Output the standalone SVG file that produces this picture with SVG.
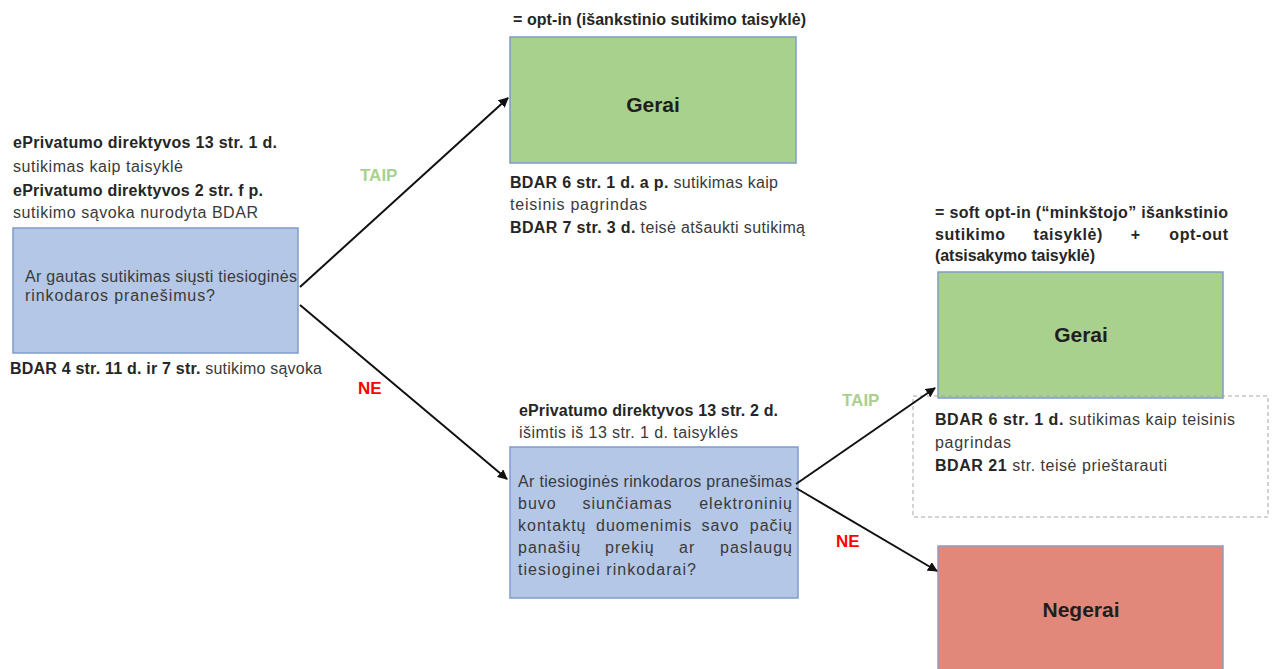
<svg xmlns="http://www.w3.org/2000/svg" width="1273" height="669" viewBox="0 0 1273 669">
<style>
text{font-family:"Liberation Sans",Arial,sans-serif;font-size:16px;fill:#3a3a3a}
.b{font-weight:bold;fill:#262626}
.e{text-anchor:end}
.w{letter-spacing:1px}
.wb{letter-spacing:0.6px}
.big{font-weight:bold;font-size:21px;fill:#1e1e1e}
.lbl{font-weight:bold;font-size:17px}
.blue{fill:#b4c7e7;stroke:#7f9cc9;stroke-width:1.5}
.green{fill:#a9d18e;stroke:#7f9cc9;stroke-width:1.5}
.red{fill:#e2887a;stroke:#8f9cc9;stroke-width:1.5}
.conn{stroke:#111;stroke-width:2;fill:none;marker-end:url(#ah)}
</style>
<defs>
<marker id="ah" markerWidth="10" markerHeight="10" refX="9" refY="5" orient="auto" markerUnits="userSpaceOnUse" viewBox="0 0 10 10">
<path d="M0,0 L10,5 L0,10 z" fill="#111"/>
</marker>
</defs>
<rect width="1273" height="669" fill="#fff"/>

<g id="q1">
<text x="13" y="148" class="b" textLength="264" lengthAdjust="spacing">ePrivatumo direktyvos 13 str. 1 d.</text>
<text x="13" y="172" textLength="170" lengthAdjust="spacing">sutikimas kaip taisyklė</text>
<text x="13" y="196" class="b" textLength="250" lengthAdjust="spacing">ePrivatumo direktyvos 2 str. f p.</text>
<text x="13" y="218" textLength="245" lengthAdjust="spacing">sutikimo sąvoka nurodyta BDAR</text>
<rect x="13" y="228" width="285" height="125" class="blue"/>
<text x="25" y="282" textLength="272" lengthAdjust="spacing">Ar gautas sutikimas siųsti tiesioginės</text>
<text x="25" y="301" textLength="190" lengthAdjust="spacing">rinkodaros pranešimus?</text>
<text x="10" y="374" textLength="312" lengthAdjust="spacing"><tspan class="b">BDAR 4 str. 11 d. ir 7 str.</tspan> sutikimo sąvoka</text>
</g>

<g id="ok1">
<text x="513" y="25" class="b" textLength="293" lengthAdjust="spacing">= opt-in (išankstinio sutikimo taisyklė)</text>
<rect x="510" y="37" width="286" height="126" class="green"/>
<text x="653" y="112" class="big" text-anchor="middle">Gerai</text>
<text x="510" y="188" textLength="268" lengthAdjust="spacing"><tspan class="b">BDAR 6 str. 1 d. a p.</tspan>  sutikimas kaip</text>
<text x="510" y="210" textLength="137" lengthAdjust="spacing">teisinis pagrindas</text>
<text x="510" y="233" textLength="295" lengthAdjust="spacing"><tspan class="b">BDAR 7 str. 3 d.</tspan> teisė atšaukti sutikimą</text>
</g>

<g id="q2">
<text x="519" y="416" class="b" textLength="259" lengthAdjust="spacing">ePrivatumo direktyvos 13 str. 2 d.</text>
<text x="519" y="438" textLength="219" lengthAdjust="spacing">išimtis iš 13 str. 1 d. taisyklės</text>
<rect x="510" y="447" width="288" height="151" class="blue"/>
<text x="518" y="487" textLength="274" lengthAdjust="spacing">Ar tiesioginės rinkodaros pranešimas</text>
<text x="518" y="509" class="w">buvo</text>
<text x="582.5" y="509" class="w">siunčiamas</text>
<text x="793" y="509" class="w e">elektroninių</text>
<text x="518" y="531" class="w">kontaktų</text>
<text x="596" y="531" class="w">duomenimis</text>
<text x="701.5" y="531" class="w">savo</text>
<text x="793" y="531" class="w e">pačių</text>
<text x="518" y="553" class="w">panašių</text>
<text x="605" y="553" class="w">prekių</text>
<text x="679" y="553" class="w">ar</text>
<text x="793" y="553" class="w e">paslaugų</text>
<text x="518" y="575" textLength="178" lengthAdjust="spacing">tiesioginei rinkodarai?</text>
</g>

<g id="ok2">
<text x="935" y="218" class="b" textLength="293" lengthAdjust="spacing">= soft opt-in (“minkštojo” išankstinio</text>
<text x="935" y="240" class="b wb">sutikimo</text>
<text x="1033.5" y="240" class="b wb">taisyklė)</text>
<text x="1130.8" y="240" class="b wb">+</text>
<text x="1228.6" y="240" class="b wb e">opt-out</text>
<text x="935" y="261" class="b" textLength="160" lengthAdjust="spacing">(atsisakymo taisyklė)</text>
<rect x="938" y="272" width="285" height="126" class="green"/>
<text x="1081" y="342" class="big" text-anchor="middle">Gerai</text>
<rect x="913" y="396" width="355" height="121" fill="none" stroke="#a6a6a6" stroke-width="1" stroke-dasharray="4,3"/>
<text x="935" y="425" textLength="300" lengthAdjust="spacing"><tspan class="b">BDAR 6 str. 1 d.</tspan> sutikimas kaip teisinis</text>
<text x="935" y="448" textLength="76" lengthAdjust="spacing">pagrindas</text>
<text x="935" y="471" textLength="232" lengthAdjust="spacing"><tspan class="b">BDAR 21</tspan> str. teisė prieštarauti</text>
</g>

<g id="bad">
<rect x="938" y="546" width="285" height="130" class="red"/>
<text x="1081" y="617" class="big" text-anchor="middle">Negerai</text>
</g>

<g id="connectors">
<line x1="300" y1="287" x2="508" y2="98" class="conn"/>
<line x1="300" y1="305" x2="507" y2="479" class="conn"/>
<line x1="796" y1="484" x2="935" y2="388" class="conn"/>
<line x1="796" y1="488" x2="937" y2="571" class="conn"/>
<text x="360" y="181" class="lbl" style="fill:#a9d18e">TAIP</text>
<text x="358" y="394" class="lbl" style="fill:#ff0000">NE</text>
<text x="842" y="406" class="lbl" style="fill:#a9d18e">TAIP</text>
<text x="836" y="547" class="lbl" style="fill:#ff0000">NE</text>
</g>
</svg>
